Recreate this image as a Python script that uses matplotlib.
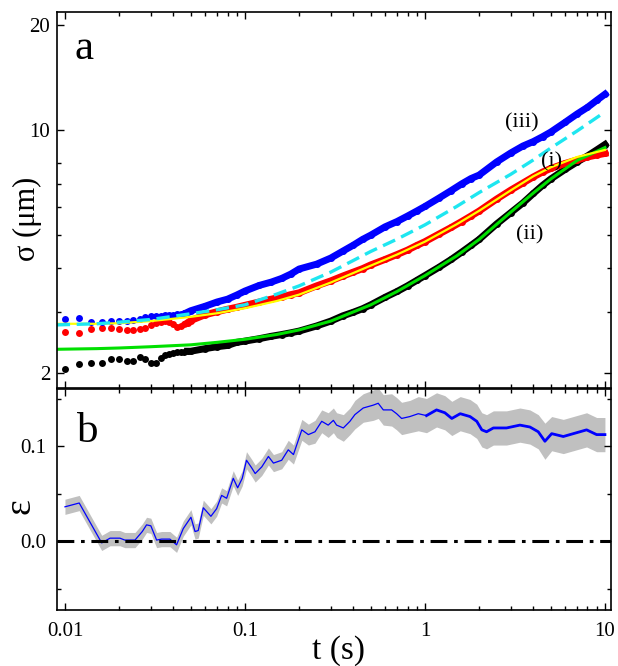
import matplotlib
matplotlib.use("Agg")
import matplotlib.pyplot as plt
from matplotlib.ticker import LogLocator, NullFormatter
import numpy as np

plt.rcParams["font.family"] = ["Liberation Serif", "DejaVu Serif"]

# ── Data: panel a, sigma(t) ──────────────────────────────────────────────────
t_sigma = [0.010, 0.012, 0.014, 0.016, 0.018, 0.020, 0.022, 0.024, 0.026, 0.028,
           0.030, 0.032, 0.034, 0.036, 0.038, 0.040, 0.042, 0.044, 0.046, 0.048,
           0.05, 0.06, 0.07, 0.08, 0.09, 0.1, 0.12, 0.14, 0.16, 0.18,
           0.2, 0.25, 0.3, 0.35, 0.4, 0.45, 0.5, 0.6, 0.7, 0.8,
           0.9, 1.0, 1.2, 1.4, 1.6, 1.8, 2.0, 2.5, 3.0, 3.5,
           4.0, 4.5, 5.0, 6.0, 7.0, 8.0, 9.0, 10.0]
n_early = 20  # first points are separate dots, the rest overlap into a band

# (i) red
sigma_i = [2.63, 2.60, 2.67, 2.69, 2.70, 2.67, 2.66, 2.66, 2.67, 2.70,
           2.75, 2.78, 2.81, 2.83, 2.80, 2.77, 2.72, 2.73, 2.77, 2.79,
           2.83, 2.94, 3.00, 3.05, 3.09, 3.13, 3.20, 3.26, 3.31, 3.36,
           3.40, 3.56, 3.68, 3.80, 3.90, 3.99, 4.09, 4.24, 4.38, 4.51,
           4.65, 4.77, 5.02, 5.24, 5.45, 5.65, 5.84, 6.32, 6.71, 7.03,
           7.32, 7.56, 7.74, 8.00, 8.19, 8.35, 8.46, 8.55]
# (ii) black
sigma_ii = [2.06, 2.12, 2.14, 2.14, 2.19, 2.19, 2.17, 2.17, 2.23, 2.20,
            2.14, 2.14, 2.21, 2.25, 2.27, 2.28, 2.30, 2.30, 2.30, 2.31,
            2.31, 2.35, 2.38, 2.40, 2.45, 2.47, 2.51, 2.55, 2.58, 2.61,
            2.64, 2.73, 2.82, 2.92, 2.99, 3.06, 3.14, 3.30, 3.43, 3.56,
            3.69, 3.81, 4.03, 4.24, 4.45, 4.65, 4.84, 5.36, 5.78, 6.16,
            6.56, 6.92, 7.22, 7.69, 8.08, 8.41, 8.75, 9.07]
# (iii) blue
sigma_iii = [2.85, 2.87, 2.81, 2.81, 2.82, 2.82, 2.83, 2.84, 2.86, 2.89,
             2.91, 2.91, 2.92, 2.93, 2.93, 2.93, 2.95, 2.96, 2.98, 2.99,
             3.02, 3.11, 3.20, 3.26, 3.35, 3.44, 3.57, 3.65, 3.74, 3.85,
             3.98, 4.11, 4.28, 4.48, 4.66, 4.84, 4.98, 5.26, 5.45, 5.65,
             5.84, 6.02, 6.37, 6.69, 6.99, 7.24, 7.41, 8.08, 8.58, 8.98,
             9.25, 9.55, 9.85, 10.5, 11.1, 11.6, 12.15, 12.65]

# fitted / model curves
t_fit = [0.009, 0.015, 0.02, 0.03, 0.05, 0.07, 0.1, 0.15, 0.2, 0.3,
         0.5, 0.7, 1.0, 1.5, 2.0, 3.0, 4.0, 5.0, 7.0, 10.0]
fit_i = [2.77, 2.77, 2.78, 2.82, 2.90, 2.97, 3.07, 3.22, 3.36, 3.64,
         4.07, 4.38, 4.77, 5.35, 5.85, 6.70, 7.35, 7.80, 8.35, 8.75]
fit_ii = [2.34, 2.35, 2.36, 2.38, 2.41, 2.45, 2.50, 2.58, 2.66, 2.82,
          3.14, 3.43, 3.81, 4.34, 4.84, 5.80, 6.58, 7.22, 8.16, 8.89]
model_iii = [2.75, 2.77, 2.80, 2.85, 2.96, 3.04, 3.14, 3.37, 3.56, 3.90,
             4.47, 4.85, 5.33, 6.02, 6.60, 7.45, 8.19, 8.86, 9.92, 11.25]

# ── Data: panel b, epsilon(t) ────────────────────────────────────────────────
t_eps = [0.0100, 0.0120, 0.0160, 0.0178, 0.0202, 0.0215, 0.0245, 0.0269, 0.0284, 0.0300,
         0.0323, 0.0344, 0.0383, 0.0417, 0.0454, 0.0501, 0.0528, 0.0550, 0.0587, 0.0647,
         0.0696, 0.0742, 0.0791, 0.0861, 0.0911, 0.0966, 0.102, 0.109, 0.114, 0.124,
         0.135, 0.144, 0.160, 0.174, 0.186, 0.207, 0.225, 0.245, 0.267, 0.290,
         0.310, 0.323, 0.352, 0.383, 0.408, 0.454, 0.516, 0.550, 0.587, 0.653,
         0.696, 0.742, 0.825, 0.918, 1.02, 1.16, 1.29, 1.41, 1.57, 1.78,
         1.94, 2.07, 2.20, 2.40, 2.84, 3.37, 3.83, 4.26, 4.64, 5.06,
         5.87, 6.67, 7.91, 8.99, 10.0]
eps = [0.036, 0.040, -0.002, 0.003, 0.003, 0.001, 0.001, 0.010, 0.017, 0.016,
       0.001, 0.002, 0.002, -0.004, 0.013, 0.025, 0.010, 0.011, 0.035, 0.026,
       0.034, 0.048, 0.045, 0.066, 0.056, 0.066, 0.085, 0.077, 0.071, 0.078,
       0.089, 0.082, 0.085, 0.096, 0.091, 0.117, 0.112, 0.115, 0.126, 0.122,
       0.127, 0.122, 0.119, 0.126, 0.133, 0.140, 0.143, 0.145, 0.138, 0.138,
       0.134, 0.129, 0.131, 0.134, 0.132, 0.138, 0.135, 0.129, 0.134, 0.131,
       0.126, 0.117, 0.115, 0.119, 0.119, 0.122, 0.120, 0.115, 0.105, 0.113,
       0.110, 0.113, 0.117, 0.112, 0.112]
eps_err = [0.008, 0.008, 0.008, 0.008, 0.008, 0.008, 0.008, 0.008, 0.008, 0.008,
           0.008, 0.008, 0.008, 0.008, 0.008, 0.008, 0.008, 0.008, 0.008, 0.008,
           0.008, 0.008, 0.008, 0.008, 0.008, 0.008, 0.009, 0.009, 0.009, 0.009,
           0.009, 0.009, 0.009, 0.010, 0.010, 0.011, 0.011, 0.012, 0.012, 0.013,
           0.013, 0.013, 0.014, 0.014, 0.015, 0.015, 0.016, 0.016, 0.016, 0.017,
           0.017, 0.017, 0.017, 0.018, 0.018, 0.018, 0.018, 0.018, 0.018, 0.018,
           0.018, 0.018, 0.018, 0.018, 0.018, 0.018, 0.018, 0.018, 0.019, 0.018,
           0.018, 0.018, 0.018, 0.018, 0.018]

# ── Colours ──────────────────────────────────────────────────────────────────
BLUE = "#0000ff"
RED = "#ff0000"
BLACK = "#000000"
CYAN = "#1ee6f0"
YELLOW = "#ffff00"
GREEN = "#00e000"
GREY = "#c0c0c0"

XLIM = (0.00903, 10.8)

fig = plt.figure(figsize=(6.18, 6.66), dpi=100)
ax1 = fig.add_axes([0.0922, 0.4174, 0.8964, 0.5646])
ax2 = fig.add_axes([0.0922, 0.0841, 0.8964, 0.3311])


def style_axis(ax, ypad):
    ax.set_xscale("log")
    ax.set_xlim(*XLIM)
    ax.xaxis.set_minor_locator(LogLocator(base=10, subs=np.arange(2, 10)))
    ax.xaxis.set_minor_formatter(NullFormatter())
    ax.tick_params(which="both", direction="in", top=True, right=True,
                   width=1.0, labelsize=15)
    ax.tick_params(which="major", length=5)
    ax.tick_params(which="minor", length=3)
    ax.tick_params(axis="x", pad=8.5)
    ax.tick_params(axis="y", pad=ypad)
    for sp in ax.spines.values():
        sp.set_linewidth(1.2)


# ── Panel a ──────────────────────────────────────────────────────────────────
style_axis(ax1, 5)
ax1.set_yscale("log")
ax1.set_ylim(1.811, 21.8)

for sig, col in [(sigma_ii, BLACK), (sigma_i, RED)]:
    ax1.plot(t_sigma, sig, "o", color=col, ms=5, mec="none")
    ax1.plot(t_sigma[n_early - 1:], sig[n_early - 1:], "-", color=col, lw=5)
ax1.plot(t_fit, fit_ii, "-", color=GREEN, lw=2.2)
ax1.plot(t_sigma, sigma_iii, "o", color=BLUE, ms=5, mec="none")
ax1.plot(t_sigma[n_early - 1:], sigma_iii[n_early - 1:], "-", color=BLUE, lw=5)
ax1.plot(t_fit, fit_i, "-", color=YELLOW, lw=1.6)
ax1.plot(t_fit, model_iii, color=CYAN, lw=2.4, dashes=(4, 2))

ax1.set_yticks([2, 10, 20])
ax1.set_yticklabels(["2", "10", "20"])
ax1.set_yticks([3, 4, 5, 6, 7, 8], minor=True)
ax1.yaxis.set_minor_formatter(NullFormatter())
ax1.set_xticks([0.01, 0.1, 1, 10])
ax1.tick_params(axis="x", labelbottom=False)

ax1.text(3.44, 10.44, "(iii)", fontsize=16, ha="center", va="center")
ax1.text(5.06, 8.10, "(i)", fontsize=16, ha="center", va="center")
ax1.text(3.80, 4.98, "(ii)", fontsize=16, ha="center", va="center")
ax1.text(0.031, 0.875, "a", transform=ax1.transAxes, fontsize=31, va="baseline")

# ── Panel b ──────────────────────────────────────────────────────────────────
style_axis(ax2, 8)
ax2.set_ylim(-0.0726, 0.1595)

lo = [e - d for e, d in zip(eps, eps_err)]
hi = [e + d for e, d in zip(eps, eps_err)]
ax2.fill_between(t_eps, lo, hi, color=GREY, lw=0)
ax2.plot(t_eps, eps, color=BLUE, lw=0.9)
ax2.plot(t_eps[54:], eps[54:], color=BLUE, lw=2.0)
ax2.axhline(0, color=BLACK, lw=2.2, dashes=(5.5, 2.2, 1.2, 2.2))

ax2.set_yticks([0.0, 0.1])
ax2.set_yticklabels(["0.0", "0.1"])
ax2.set_yticks([-0.05, 0.05, 0.15], minor=True)
ax2.set_xticks([0.01, 0.1, 1, 10])
ax2.set_xticklabels(["0.01", "0.1", "1", "10"])
ax2.text(0.036, 0.760, "b", transform=ax2.transAxes, fontsize=31, va="baseline")

# ── Axis titles ──────────────────────────────────────────────────────────────
fig.text(27 / 618, 1 - 219 / 666, "σ (μm)", rotation=90, ha="center",
         va="center", fontsize=22)
fig.text(20 / 618, 1 - 506 / 666, "ε", rotation=90, ha="center",
         va="center", fontsize=27)
fig.text(338 / 618, 1 - 659 / 666, "t (s)", ha="center", va="baseline",
         fontsize=24)

fig.savefig("out.png", dpi=100)
